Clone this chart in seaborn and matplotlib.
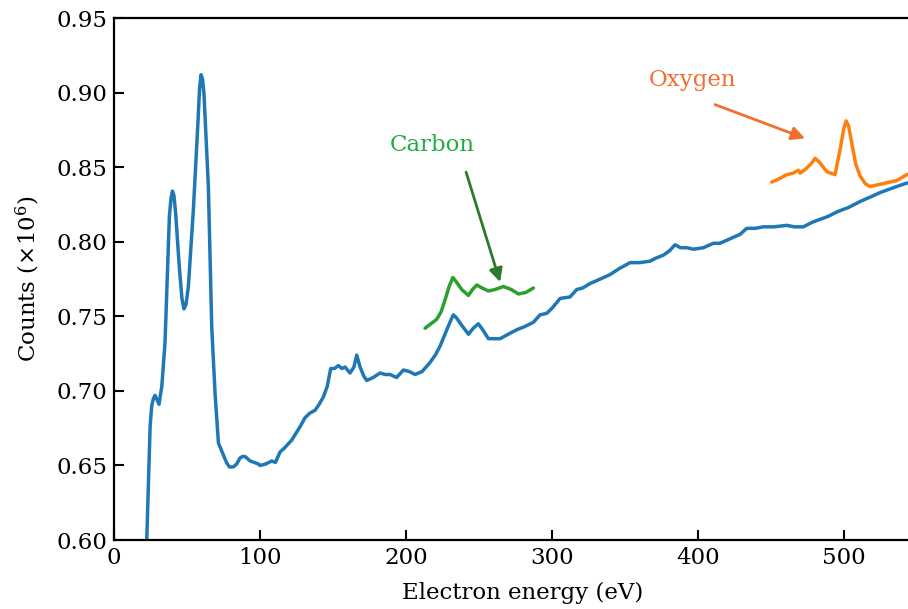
import numpy as np
import pandas as pd
import matplotlib
matplotlib.use("Agg")
import matplotlib.pyplot as plt
from matplotlib.ticker import FormatStrFormatter, MultipleLocator
import seaborn as sns

# ---- data ----
spec_energy = [22.4, 24.7, 25.8, 27.0, 28.1, 29.5, 30.8, 32.7, 34.9, 36.5, 37.9, 39.0, 40.0, 41.0,
               42.2, 44.7, 46.5, 47.9, 49.3, 50.9, 54.3, 57.3, 58.6, 59.6, 60.6, 61.6, 64.6,
               66.9, 69.2, 71.5, 74.9, 77.0, 79.0, 81.7, 84.0, 86.3, 88.0, 89.7, 93.2, 96.0,
               98.8, 100.0, 104.0, 108.0, 110.5, 113.7, 117.0, 121.7, 127.4, 130.8, 134.0,
               137.7, 140.5, 143.4, 146.0, 148.4, 151.0, 153.7, 156.0, 158.2, 161.6, 164.3,
               166.2, 168.5, 171.0, 173.1, 177.5, 182.2, 185.5, 189.0, 193.5, 198.2, 202.0,
               206.2, 211.0, 216.4, 220.0, 223.3, 227.9, 230.5, 232.4, 234.5, 238.1, 242.7,
               246.0, 249.5, 252.5, 256.4, 260.0, 264.4, 270.0, 275.8, 281.0, 287.2, 291.8,
               296.4, 300.5, 305.5, 312.3, 316.9, 321.0, 326.0, 333.0, 339.7, 346.0, 353.4,
               360.0, 367.1, 371.0, 376.2, 380.5, 384.2, 388.0, 392.3, 396.8, 403.6, 410.5,
               415.0, 419.6, 428.8, 433.3, 439.0, 444.7, 452.0, 460.7, 466.0, 472.1, 478.0,
               483.6, 489.0, 495.0, 503.0, 511.0, 518.0, 524.7, 533.0, 541.8, 560.0]
spec_counts = [0.600, 0.676, 0.690, 0.695, 0.697, 0.694, 0.691, 0.703, 0.732, 0.777, 0.817,
               0.829, 0.834, 0.831, 0.819, 0.783, 0.762, 0.755, 0.758, 0.770, 0.821, 0.877,
               0.903, 0.912, 0.909, 0.899, 0.837, 0.743, 0.698, 0.665, 0.657, 0.652, 0.649,
               0.649, 0.651, 0.655, 0.656, 0.656, 0.653, 0.652, 0.651, 0.650, 0.651, 0.653,
               0.652, 0.659, 0.662, 0.667, 0.676, 0.682, 0.685, 0.687, 0.691, 0.696, 0.703,
               0.715, 0.715, 0.717, 0.715, 0.716, 0.712, 0.716, 0.724, 0.716, 0.710, 0.707,
               0.709, 0.712, 0.711, 0.711, 0.709, 0.714, 0.713, 0.711, 0.713, 0.719, 0.724,
               0.730, 0.741, 0.747, 0.751, 0.749, 0.744, 0.738, 0.742, 0.745, 0.741, 0.735,
               0.735, 0.735, 0.738, 0.741, 0.743, 0.746, 0.751, 0.752, 0.756, 0.762, 0.763,
               0.768, 0.769, 0.772, 0.775, 0.778, 0.782, 0.786, 0.786, 0.787, 0.789, 0.791,
               0.794, 0.798, 0.796, 0.796, 0.795, 0.796, 0.799, 0.799, 0.801, 0.805, 0.809,
               0.809, 0.810, 0.810, 0.811, 0.810, 0.810, 0.813, 0.815, 0.817, 0.820, 0.823,
               0.827, 0.830, 0.833, 0.836, 0.839, 0.843]

carbon_energy = [213.0, 217.0, 221.0, 224.0, 226.7, 229.5, 232.0, 234.5, 238.1, 242.7, 245.5,
                 248.4, 252.0, 256.4, 261.0, 266.7, 272.0, 277.0, 282.0, 287.2]
carbon_counts = [0.742, 0.745, 0.748, 0.753, 0.761, 0.770, 0.776, 0.773, 0.768, 0.764, 0.768,
                 0.771, 0.769, 0.767, 0.768, 0.770, 0.768, 0.765, 0.766, 0.769]

oxygen_energy = [450.4, 455.0, 460.7, 465.0, 468.7, 469.9, 474.0, 478.0, 480.1, 482.5, 488.2,
                 493.8, 497.3, 499.8, 501.4, 503.0, 505.3, 508.0, 511.0, 514.5, 517.8, 522.0,
                 526.9, 531.0, 536.1, 542.9, 560.0]
oxygen_counts = [0.840, 0.842, 0.845, 0.846, 0.848, 0.846, 0.849, 0.853, 0.856, 0.854, 0.847,
                 0.845, 0.862, 0.876, 0.881, 0.878, 0.866, 0.852, 0.844, 0.839, 0.837, 0.838,
                 0.839, 0.840, 0.841, 0.845, 0.848]

labels = ["Carbon", "Oxygen"]
x_ticks = [0, 100, 200, 300, 400, 500]

# ---- styling ----
sns.set_style("ticks")
plt.rcParams["font.family"] = ["DejaVu Serif"]
plt.rcParams["mathtext.fontset"] = "dejavuserif"
plt.rcParams["text.color"] = "black"
plt.rcParams["axes.labelcolor"] = "black"

fig = plt.figure(figsize=(9.08, 6.09), dpi=100)
ax = fig.add_axes([0.1256, 0.1133, 0.9005, 0.857])

df_spec = pd.DataFrame({"E": spec_energy, "C": spec_counts})
df_c = pd.DataFrame({"E": carbon_energy, "C": carbon_counts})
df_o = pd.DataFrame({"E": oxygen_energy, "C": oxygen_counts})

sns.lineplot(data=df_spec, x="E", y="C", ax=ax, color="#1f77b4", lw=2.5, sort=False, estimator=None)
sns.lineplot(data=df_c, x="E", y="C", ax=ax, color="#2ca02c", lw=2.5, sort=False, estimator=None)
sns.lineplot(data=df_o, x="E", y="C", ax=ax, color="#ff7f0e", lw=2.5, sort=False, estimator=None)

fs = 16.5
ax.text(217.8, 0.8648, labels[0], color="#22aa44", fontsize=fs, ha="center", va="center")
ax.annotate("", xy=(264.4, 0.773), xytext=(241.1, 0.8467),
            arrowprops=dict(arrowstyle="-|>", color="#2d7a2d", lw=2, mutation_scale=20,
                            shrinkA=0, shrinkB=0))
ax.text(395.9, 0.9084, labels[1], color="#f07030", fontsize=fs, ha="center", va="center")
ax.annotate("", xy=(473.3, 0.8693), xytext=(411.6, 0.892),
            arrowprops=dict(arrowstyle="-|>", color="#f07030", lw=2, mutation_scale=20,
                            shrinkA=0, shrinkB=0))

ax.set_xlim(0, 560)
ax.set_ylim(0.60, 0.95)
ax.set_xticks(x_ticks)
ax.yaxis.set_major_locator(MultipleLocator(0.05))
ax.yaxis.set_major_formatter(FormatStrFormatter("%.2f"))
ax.tick_params(direction="in", length=7, width=1.5, labelsize=fs, colors="black", pad=5)
for s in ax.spines.values():
    s.set_linewidth(1.6)
    s.set_color("black")

ax.set_xlabel("Electron energy (eV)", fontsize=fs, labelpad=9, color="black")
ax.set_ylabel(r"Counts ($\times10^6$)", fontsize=fs, labelpad=10, color="black")

fig.savefig("out.png", dpi=100)
